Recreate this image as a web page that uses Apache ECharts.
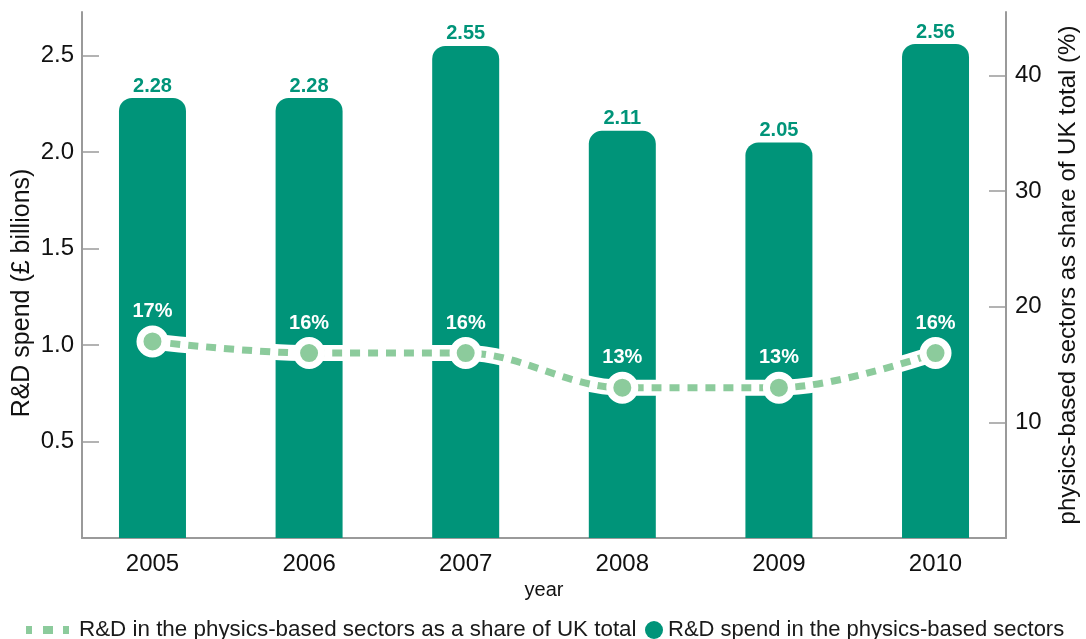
<!DOCTYPE html>
<html>
<head>
<meta charset="utf-8">
<script src="https://cdn.jsdelivr.net/npm/echarts@6/dist/echarts.min.js"></script>
<style>
  html, body { margin: 0; padding: 0; background: #fff; }
  #chart { width: 1086px; height: 639px; }
</style>
</head>
<body>
<div id="chart"></div>
<script>
// R&D in the UK physics-based sectors, 2005-2010
const years = ['2005', '2006', '2007', '2008', '2009', '2010'];
const spendBillions = [2.28, 2.28, 2.55, 2.11, 2.05, 2.56];
const sharePercent = [17, 16, 16, 13, 13, 16];
const spendTicks = [0.5, 1.0, 1.5, 2.0, 2.5];
const shareTicks = [10, 20, 30, 40];

const spendName = 'R&D spend in the physics-based sectors';
const shareName = 'R&D in the physics-based sectors as a share of UK total';

const TEAL = '#009479';
const LIGHT = '#8ccb9c';
const AXIS = '#9a9a9a';
const SANS = '"Liberation Sans", Arial, sans-serif';

const yearIndex = years.map((_, i) => i);
const spendData = years.map((_, i) => [i, spendBillions[i]]);
const shareData = years.map((_, i) => [i, sharePercent[i]]);

const chart = echarts.init(document.getElementById('chart'), null, { renderer: 'canvas' });

const valueAxisCommon = {
  type: 'value',
  axisLine: { show: true, onZero: false, lineStyle: { color: AXIS, width: 2 } },
  splitLine: { show: false },
  nameLocation: 'middle'
};

chart.setOption({
  animation: false,
  textStyle: { fontFamily: SANS },
  grid: { left: 82, right: 80, top: 12, bottom: 101, containLabel: false, outerBoundsMode: 'none' },
  xAxis: {
    type: 'value',
    min: -0.45,
    max: 5.45,
    axisLine: { show: true, onZero: false, lineStyle: { color: AXIS, width: 2 } },
    axisTick: { show: false },
    splitLine: { show: false },
    axisLabel: {
      customValues: yearIndex,
      formatter: v => years[v],
      fontFamily: SANS, fontSize: 24, color: '#111', margin: 14
    },
    name: 'year',
    nameLocation: 'middle',
    nameGap: 42,
    nameTextStyle: { fontFamily: SANS, fontSize: 20, color: '#111' }
  },
  yAxis: [
    Object.assign({}, valueAxisCommon, {
      position: 'left',
      min: 0,
      max: 2.726,
      axisTick: { show: true, inside: true, length: 17, customValues: spendTicks,
                  lineStyle: { color: AXIS, width: 1.5 } },
      axisLabel: { customValues: spendTicks, formatter: v => v.toFixed(1),
                   fontFamily: SANS, fontSize: 24, color: '#111', margin: 8 },
      name: 'R&D spend (£ billions)',
      nameGap: 47,
      nameMoveOverlap: false,
      nameTextStyle: { fontFamily: SANS, fontSize: 25, color: '#111', padding: [0, 36, 0, 0] }
    }),
    Object.assign({}, valueAxisCommon, {
      position: 'right',
      min: 0,
      max: 45.5,
      axisTick: { show: true, inside: true, length: 17, customValues: shareTicks,
                  lineStyle: { color: AXIS, width: 1.5 } },
      axisLabel: { customValues: shareTicks, formatter: v => String(v),
                   fontFamily: SANS, fontSize: 24, color: '#111', margin: 9 },
      name: 'physics-based sectors as share of UK total (%)',
      nameGap: 50,
      nameTextStyle: { fontFamily: SANS, fontSize: 24, color: '#111' }
    })
  ],
  legend: [
    {
      data: [{ name: shareName, icon: 'path://M0,0h6v8h-6z M17,0h10v8h-10z M37,0h6v8h-6z' }],
      left: 21,
      top: 614,
      itemWidth: 43,
      itemHeight: 8,
      itemGap: 0,
      selectedMode: false,
      itemStyle: { color: LIGHT, borderWidth: 0 },
      textStyle: { fontFamily: SANS, fontSize: 22.4, color: '#1a1a1a', padding: [0, 0, 0, 5] }
    },
    {
      data: [{ name: spendName, icon: 'circle' }],
      left: 640,
      top: 614,
      itemWidth: 18,
      itemHeight: 18,
      selectedMode: false,
      itemStyle: { color: TEAL, borderWidth: 0 },
      textStyle: { fontFamily: SANS, fontSize: 22, color: '#1a1a1a' }
    }
  ],
  series: [
    {
      name: spendName,
      type: 'bar',
      yAxisIndex: 0,
      data: spendData,
      barWidth: 67,
      itemStyle: { color: TEAL, borderRadius: [13, 13, 0, 0] },
      label: {
        show: true,
        position: 'top',
        distance: 2,
        color: TEAL,
        fontFamily: SANS,
        fontWeight: 'bold',
        fontSize: 20,
        formatter: p => p.value[1].toFixed(2)
      },
      z: 2
    },
    {
      // white casing under the dashed share line
      name: 'share-casing',
      type: 'line',
      yAxisIndex: 1,
      data: shareData,
      smooth: 0.35,
      symbol: 'none',
      silent: true,
      lineStyle: { color: '#ffffff', width: 16 },
      z: 3
    },
    {
      name: shareName,
      type: 'line',
      yAxisIndex: 1,
      data: shareData,
      smooth: 0.35,
      symbol: 'circle',
      symbolSize: 25,
      lineStyle: { color: LIGHT, width: 7, type: [10, 8] },
      itemStyle: { color: LIGHT, borderColor: '#ffffff', borderWidth: 7 },
      label: {
        show: true,
        position: 'top',
        distance: 4,
        color: '#ffffff',
        fontFamily: SANS,
        fontWeight: 'bold',
        fontSize: 20,
        formatter: p => p.value[1] + '%'
      },
      z: 4
    }
  ]
});
</script>
</body>
</html>
